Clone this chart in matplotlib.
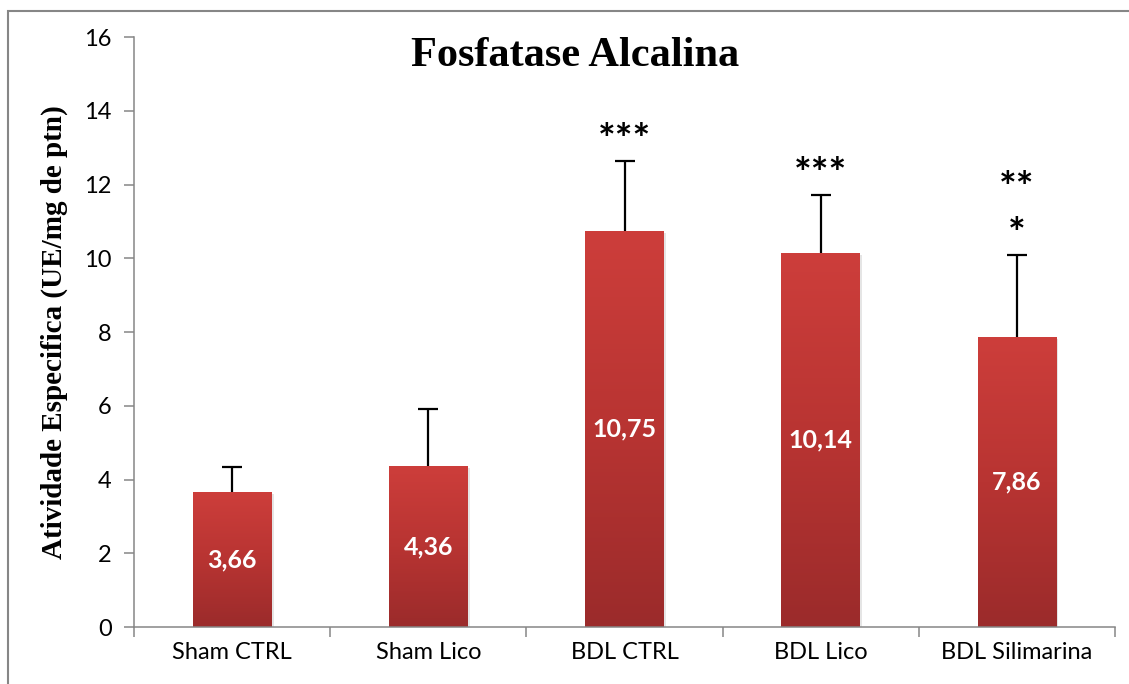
import numpy as np
import matplotlib
matplotlib.use("Agg")
import matplotlib.pyplot as plt
from matplotlib.colors import LinearSegmentedColormap
from matplotlib.patches import Rectangle

# data
groups = ["Sham CTRL", "Sham Lico", "BDL CTRL", "BDL Lico", "BDL Silimarina"]
means = [3.66, 4.36, 10.75, 10.14, 7.86]
errors = [0.68, 1.55, 1.88, 1.57, 2.22]
labels = ["3,66", "4,36", "10,75", "10,14", "7,86"]
stars = [[], [], ["***"], ["***"], ["*", "**"]]

plt.rcParams["font.family"] = ["Lato", "DejaVu Sans"]

fig = plt.figure(figsize=(11.29, 6.84), dpi=100)
ax = fig.add_axes([0.1187, 0.0833, 0.8689, 0.8626])

x = np.arange(len(groups))
bar_w = 0.40
grad = LinearSegmentedColormap.from_list("bar", ["#9b2b2b", "#b83432", "#cd3e3b"])

# faint shadow behind bars
ax.bar(x + 0.012, means, bar_w, bottom=-0.06, color="#000000", alpha=0.10, zorder=1)
bars = ax.bar(x, means, bar_w, color="none", edgecolor="none", zorder=2)
g = np.linspace(0, 1, 256).reshape(-1, 1)
for b in bars:
    x0, w, h = b.get_x(), b.get_width(), b.get_height()
    im = ax.imshow(g, cmap=grad, origin="lower", aspect="auto",
                   extent=(x0, x0 + w, 0, h), zorder=2)
    im.set_clip_path(b)

eb = ax.errorbar(x, means, yerr=[np.zeros(len(means)), errors], fmt="none",
                 ecolor="black", elinewidth=1.6, capsize=7, capthick=1.6, zorder=3)
eb[1][0].set_visible(False)  # only the upper cap

for xi, m, lab in zip(x, means, labels):
    ax.text(xi, m / 2, lab, ha="center", va="center", color="white",
            fontsize=18, fontweight="bold", zorder=4)

for xi, m, e, st in zip(x, means, errors, stars):
    for k, s in enumerate(st):
        ax.text(xi, m + e + 0.2 + 1.25 * k, s, ha="center", va="baseline",
                fontsize=30, fontweight="bold", zorder=4)

ax.set_xlim(-0.5, len(groups) - 0.5)
ax.set_ylim(0, 16)
ax.set_yticks(range(0, 17, 2))
ax.set_xticks(x)
ax.set_xticklabels(groups)
ax.set_xticks(np.arange(-0.5, len(groups)), minor=True)
ax.tick_params(axis="x", which="major", length=0, pad=11, labelsize=17)
ax.tick_params(axis="x", which="minor", length=7, width=1.1, color="#868686", direction="out")
ax.tick_params(axis="y", length=7, width=1.1, color="#868686", direction="out",
               pad=9, labelsize=17)

for side in ["top", "right"]:
    ax.spines[side].set_visible(False)
for side in ["left", "bottom"]:
    ax.spines[side].set_color("#868686")
    ax.spines[side].set_linewidth(1.1)

ax.set_ylabel("Atividade Especifica (UE/mg de ptn)", family="Liberation Serif",
              fontweight="bold", fontsize=21, labelpad=12)
fig.text(0.509, 0.918, "Fosfatase Alcalina", ha="center", va="center",
         family="Liberation Serif", fontweight="bold", fontsize=30.5)

# outer chart frame (left and top edges visible)
fig.add_artist(Rectangle((8 / 1129, -0.05), 1.2, 1 - 11 / 684 + 0.05,
                         transform=fig.transFigure, fill=False,
                         edgecolor="#868686", linewidth=1.5))

fig.savefig("out.png", dpi=100)
